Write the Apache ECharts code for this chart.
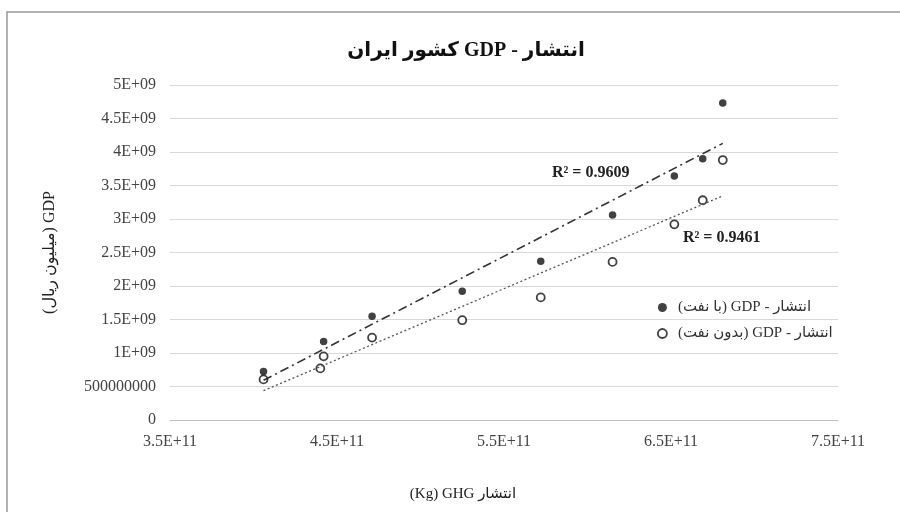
<!DOCTYPE html>
<html>
<head>
<meta charset="utf-8">
<script src="https://cdn.jsdelivr.net/npm/echarts@6/dist/echarts.min.js"></script>
<style>
html,body{margin:0;padding:0;background:#fff;}
#chart{width:900px;height:512px;}
</style>
</head>
<body>
<div id="chart"></div>
<script>
// ---- data ----
const xWithOil = [4.06e11, 4.42e11, 4.71e11, 5.25e11, 5.72e11, 6.15e11, 6.52e11, 6.69e11, 6.81e11];
const yWithOil = [7.25e8, 1.17e9, 1.55e9, 1.92e9, 2.37e9, 3.06e9, 3.64e9, 3.90e9, 4.73e9];
const xNoOil = [4.06e11, 4.40e11, 4.42e11, 4.71e11, 5.25e11, 5.72e11, 6.15e11, 6.52e11, 6.69e11, 6.81e11];
const yNoOil = [6.06e8, 7.7e8, 9.5e8, 1.23e9, 1.49e9, 1.83e9, 2.36e9, 2.92e9, 3.28e9, 3.88e9];
const yTickLabels = ['0','500000000','1E+09','1.5E+09','2E+09','2.5E+09','3E+09','3.5E+09','4E+09','4.5E+09','5E+09'];
const xTickLabels = ['3.5E+11','4.5E+11','5.5E+11','6.5E+11','7.5E+11'];
const r2Labels = ['R² = 0.9609', 'R² = 0.9461'];
const RLE = '\u202B', PDF = '\u202C';
const rtl = s => RLE + s + PDF;
const titleText = rtl('انتشار - GDP کشور ایران');
const seriesNames = [rtl('انتشار - GDP (با نفت)'), rtl('انتشار - GDP (بدون نفت)')];
const yName = rtl('GDP (میلیون ریال)');
const xName = '(Kg) GHG انتشار';

function fit(xs, ys) {
  const n = xs.length;
  const mx = xs.reduce((a,b)=>a+b,0)/n, my = ys.reduce((a,b)=>a+b,0)/n;
  let sxy = 0, sxx = 0;
  for (let i=0;i<n;i++){ sxy += (xs[i]-mx)*(ys[i]-my); sxx += (xs[i]-mx)*(xs[i]-mx); }
  const b = sxy/sxx, a = my - b*mx;
  const x0 = Math.min(...xs), x1 = Math.max(...xs);
  return [[x0, a+b*x0],[x1, a+b*x1]];
}
const pairs = (xs, ys) => xs.map((x,i)=>[x, ys[i]]);

const FONT = '"Liberation Serif", "DejaVu Serif", "DejaVu Sans", serif';
const chart = echarts.init(document.getElementById('chart'), null, {renderer:'canvas'});
chart.setOption({
  backgroundColor: '#fff',
  animation: false,
  title: {
    text: titleText, left: 461, top: 36, textAlign: 'center',
    textStyle: {fontFamily: FONT, fontSize: 20, fontWeight: 'bold', color: '#111'}
  },
  grid: {left: 170, right: 62, top: 85, bottom: 92},
  legend: {
    orient: 'vertical', left: 652, top: 295, itemGap: 11,
    itemWidth: 9, itemHeight: 9,
    textStyle: {fontFamily: FONT, fontSize: 15, color: '#333', padding: [0, 0, 0, 6]},
    data: [
      {name: seriesNames[0], icon: 'circle', itemStyle: {color: '#111', borderWidth: 0}},
      {name: seriesNames[1], icon: 'circle', itemStyle: {color: '#fff', borderColor: '#111', borderWidth: 1.8}}
    ]
  },
  xAxis: {
    type: 'value', min: 3.5e11, max: 7.5e11, interval: 5e10,
    axisLine: {show: true, onZero: false, lineStyle: {color: '#bfbfbf'}},
    axisTick: {show: false},
    splitLine: {show: false},
    axisLabel: {
      margin: 14, color: '#444', fontFamily: FONT, fontSize: 16,
      formatter: v => { const k = Math.round((v - 3.5e11)/5e10); return k % 2 === 0 ? xTickLabels[k/2] : ''; }
    }
  },
  yAxis: {
    type: 'value', min: 0, max: 5e9, interval: 5e8,
    name: yName, nameLocation: 'middle', nameGap: 112, nameRotate: 90,
    nameTextStyle: {fontFamily: FONT, fontSize: 16, color: '#222'},
    axisLine: {show: false}, axisTick: {show: false},
    splitLine: {lineStyle: {color: '#d9d9d9', width: 1}},
    axisLabel: {
      margin: 14, color: '#444', fontFamily: FONT, fontSize: 16,
      formatter: v => yTickLabels[Math.round(v/5e8)]
    }
  },
  graphic: [
    {type: 'rect', shape: {x: 7, y: 12, width: 1200, height: 1200}, silent: true, z: -10,
     style: {fill: 'none', stroke: '#999', lineWidth: 1.5}},
    {type: 'text', x: 463, y: 494, style: {text: xName, textAlign: 'center', textVerticalAlign: 'middle',
      font: '15px ' + FONT, fill: '#222'}},
    {type: 'text', x: 552, y: 173, style: {text: r2Labels[0], textAlign: 'left', textVerticalAlign: 'middle',
      font: 'bold 16px ' + FONT, fill: '#222'}},
    {type: 'text', x: 683, y: 238, style: {text: r2Labels[1], textAlign: 'left', textVerticalAlign: 'middle',
      font: 'bold 16px ' + FONT, fill: '#222'}}
  ],
  series: [
    {
      name: seriesNames[1], type: 'scatter', data: pairs(xNoOil, yNoOil),
      symbol: 'circle', symbolSize: 8, z: 3,
      itemStyle: {color: '#fff', borderColor: '#111', borderWidth: 1.8}
    },
    {
      name: seriesNames[0], type: 'scatter', data: pairs(xWithOil, yWithOil),
      symbol: 'circle', symbolSize: 7.5, z: 4,
      itemStyle: {color: '#111'}
    },
    {
      name: 'trend1', type: 'line', data: fit(xWithOil, yWithOil), symbol: 'none', z: 5,
      lineStyle: {color: '#333', width: 1.6, type: [9, 4, 2, 4]}
    },
    {
      name: 'trend2', type: 'line', data: fit(xNoOil, yNoOil), symbol: 'none', z: 5,
      lineStyle: {color: '#555', width: 1.3, type: [2, 2.5]}
    }
  ]
});
</script>
</body>
</html>
